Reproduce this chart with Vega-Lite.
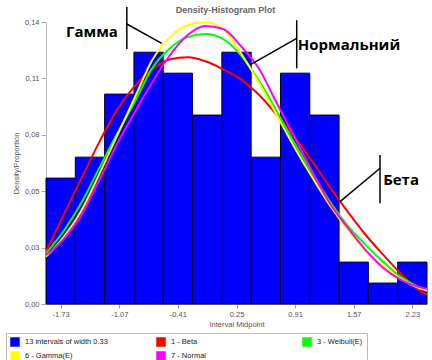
{
  "$schema": "https://vega.github.io/schema/vega-lite/v6.json",
  "width": 381,
  "height": 282,
  "autosize": {"type": "none"},
  "padding": {"left": 46, "top": 22, "right": 5, "bottom": 56},
  "background": "white",
  "title": {"text": "Density-Histogram Plot", "fontSize": 9, "font": "Liberation Sans", "fontWeight": "bold", "color": "#666666", "offset": -9, "dx": -11},
  "config": {"view": {"stroke": null}, "font": "Liberation Sans"},
  "datasets": {
    "bars": [
      {"series": "13 intervals of width 0.33", "mid": -1.73, "lo": -1.895, "hi": -1.565, "p": 0.0625},
      {"series": "13 intervals of width 0.33", "mid": -1.40, "lo": -1.565, "hi": -1.235, "p": 0.0729},
      {"series": "13 intervals of width 0.33", "mid": -1.07, "lo": -1.235, "hi": -0.905, "p": 0.1042},
      {"series": "13 intervals of width 0.33", "mid": -0.74, "lo": -0.905, "hi": -0.575, "p": 0.125},
      {"series": "13 intervals of width 0.33", "mid": -0.41, "lo": -0.575, "hi": -0.245, "p": 0.1146},
      {"series": "13 intervals of width 0.33", "mid": -0.08, "lo": -0.245, "hi": 0.085, "p": 0.0938},
      {"series": "13 intervals of width 0.33", "mid": 0.25, "lo": 0.085, "hi": 0.415, "p": 0.125},
      {"series": "13 intervals of width 0.33", "mid": 0.58, "lo": 0.415, "hi": 0.745, "p": 0.0729},
      {"series": "13 intervals of width 0.33", "mid": 0.91, "lo": 0.745, "hi": 1.075, "p": 0.1146},
      {"series": "13 intervals of width 0.33", "mid": 1.24, "lo": 1.075, "hi": 1.405, "p": 0.0938},
      {"series": "13 intervals of width 0.33", "mid": 1.57, "lo": 1.405, "hi": 1.735, "p": 0.0208},
      {"series": "13 intervals of width 0.33", "mid": 1.90, "lo": 1.735, "hi": 2.065, "p": 0.0104},
      {"series": "13 intervals of width 0.33", "mid": 2.23, "lo": 2.065, "hi": 2.395, "p": 0.0208}
    ],
    "curves": [
      {"series": "1 - Beta", "x": -1.895, "y": 0.026},
      {"series": "1 - Beta", "x": -1.7, "y": 0.044},
      {"series": "1 - Beta", "x": -1.5, "y": 0.062},
      {"series": "1 - Beta", "x": -1.3, "y": 0.080},
      {"series": "1 - Beta", "x": -1.1, "y": 0.096},
      {"series": "1 - Beta", "x": -0.9, "y": 0.108},
      {"series": "1 - Beta", "x": -0.7, "y": 0.1165},
      {"series": "1 - Beta", "x": -0.5, "y": 0.1215},
      {"series": "1 - Beta", "x": -0.3, "y": 0.1225},
      {"series": "1 - Beta", "x": -0.1, "y": 0.1205},
      {"series": "1 - Beta", "x": 0.1, "y": 0.1165},
      {"series": "1 - Beta", "x": 0.3, "y": 0.1115},
      {"series": "1 - Beta", "x": 0.5, "y": 0.104},
      {"series": "1 - Beta", "x": 0.7, "y": 0.094},
      {"series": "1 - Beta", "x": 0.9, "y": 0.083},
      {"series": "1 - Beta", "x": 1.1, "y": 0.071},
      {"series": "1 - Beta", "x": 1.3, "y": 0.058},
      {"series": "1 - Beta", "x": 1.5, "y": 0.046},
      {"series": "1 - Beta", "x": 1.7, "y": 0.0345},
      {"series": "1 - Beta", "x": 1.9, "y": 0.0245},
      {"series": "1 - Beta", "x": 2.1, "y": 0.015},
      {"series": "1 - Beta", "x": 2.3, "y": 0.007},
      {"series": "1 - Beta", "x": 2.395, "y": 0.0045},
      {"series": "3 - Weibull(E)", "x": -1.895, "y": 0.0252},
      {"series": "3 - Weibull(E)", "x": -1.7, "y": 0.036},
      {"series": "3 - Weibull(E)", "x": -1.5, "y": 0.050},
      {"series": "3 - Weibull(E)", "x": -1.3, "y": 0.067},
      {"series": "3 - Weibull(E)", "x": -1.1, "y": 0.084},
      {"series": "3 - Weibull(E)", "x": -0.9, "y": 0.100},
      {"series": "3 - Weibull(E)", "x": -0.7, "y": 0.117},
      {"series": "3 - Weibull(E)", "x": -0.5, "y": 0.127},
      {"series": "3 - Weibull(E)", "x": -0.3, "y": 0.1325},
      {"series": "3 - Weibull(E)", "x": -0.1, "y": 0.134},
      {"series": "3 - Weibull(E)", "x": 0.1, "y": 0.1315},
      {"series": "3 - Weibull(E)", "x": 0.3, "y": 0.1235},
      {"series": "3 - Weibull(E)", "x": 0.5, "y": 0.111},
      {"series": "3 - Weibull(E)", "x": 0.7, "y": 0.096},
      {"series": "3 - Weibull(E)", "x": 0.9, "y": 0.080},
      {"series": "3 - Weibull(E)", "x": 1.1, "y": 0.065},
      {"series": "3 - Weibull(E)", "x": 1.3, "y": 0.051},
      {"series": "3 - Weibull(E)", "x": 1.5, "y": 0.039},
      {"series": "3 - Weibull(E)", "x": 1.7, "y": 0.0295},
      {"series": "3 - Weibull(E)", "x": 1.9, "y": 0.021},
      {"series": "3 - Weibull(E)", "x": 2.1, "y": 0.0135},
      {"series": "3 - Weibull(E)", "x": 2.3, "y": 0.0085},
      {"series": "3 - Weibull(E)", "x": 2.395, "y": 0.007},
      {"series": "6 - Gamma(E)", "x": -1.895, "y": 0.0235},
      {"series": "6 - Gamma(E)", "x": -1.7, "y": 0.033},
      {"series": "6 - Gamma(E)", "x": -1.5, "y": 0.046},
      {"series": "6 - Gamma(E)", "x": -1.3, "y": 0.064},
      {"series": "6 - Gamma(E)", "x": -1.1, "y": 0.083},
      {"series": "6 - Gamma(E)", "x": -0.9, "y": 0.102},
      {"series": "6 - Gamma(E)", "x": -0.7, "y": 0.121},
      {"series": "6 - Gamma(E)", "x": -0.5, "y": 0.1325},
      {"series": "6 - Gamma(E)", "x": -0.3, "y": 0.1385},
      {"series": "6 - Gamma(E)", "x": -0.1, "y": 0.140},
      {"series": "6 - Gamma(E)", "x": 0.1, "y": 0.1365},
      {"series": "6 - Gamma(E)", "x": 0.3, "y": 0.1245},
      {"series": "6 - Gamma(E)", "x": 0.5, "y": 0.110},
      {"series": "6 - Gamma(E)", "x": 0.7, "y": 0.094},
      {"series": "6 - Gamma(E)", "x": 0.9, "y": 0.078},
      {"series": "6 - Gamma(E)", "x": 1.1, "y": 0.063},
      {"series": "6 - Gamma(E)", "x": 1.3, "y": 0.049},
      {"series": "6 - Gamma(E)", "x": 1.5, "y": 0.037},
      {"series": "6 - Gamma(E)", "x": 1.7, "y": 0.0265},
      {"series": "6 - Gamma(E)", "x": 1.9, "y": 0.019},
      {"series": "6 - Gamma(E)", "x": 2.1, "y": 0.0125},
      {"series": "6 - Gamma(E)", "x": 2.3, "y": 0.008},
      {"series": "6 - Gamma(E)", "x": 2.395, "y": 0.0065},
      {"series": "7 - Normal", "x": -1.895, "y": 0.0243},
      {"series": "7 - Normal", "x": -1.7, "y": 0.032},
      {"series": "7 - Normal", "x": -1.5, "y": 0.044},
      {"series": "7 - Normal", "x": -1.3, "y": 0.061},
      {"series": "7 - Normal", "x": -1.1, "y": 0.079},
      {"series": "7 - Normal", "x": -0.9, "y": 0.095},
      {"series": "7 - Normal", "x": -0.7, "y": 0.110},
      {"series": "7 - Normal", "x": -0.5, "y": 0.1235},
      {"series": "7 - Normal", "x": -0.3, "y": 0.1335},
      {"series": "7 - Normal", "x": -0.1, "y": 0.138},
      {"series": "7 - Normal", "x": 0.1, "y": 0.1365},
      {"series": "7 - Normal", "x": 0.3, "y": 0.128},
      {"series": "7 - Normal", "x": 0.5, "y": 0.117},
      {"series": "7 - Normal", "x": 0.7, "y": 0.100},
      {"series": "7 - Normal", "x": 0.9, "y": 0.083},
      {"series": "7 - Normal", "x": 1.1, "y": 0.066},
      {"series": "7 - Normal", "x": 1.3, "y": 0.050},
      {"series": "7 - Normal", "x": 1.5, "y": 0.038},
      {"series": "7 - Normal", "x": 1.7, "y": 0.027},
      {"series": "7 - Normal", "x": 1.9, "y": 0.018},
      {"series": "7 - Normal", "x": 2.1, "y": 0.012},
      {"series": "7 - Normal", "x": 2.3, "y": 0.0085},
      {"series": "7 - Normal", "x": 2.395, "y": 0.0075}
    ],
    "annLines": [
      {"x1": -0.985, "y1": 0.1474, "x2": -0.985, "y2": 0.1266},
      {"x1": -0.985, "y1": 0.1390, "x2": -0.592, "y2": 0.1294},
      {"x1": 0.928, "y1": 0.1409, "x2": 0.928, "y2": 0.1170},
      {"x1": 0.928, "y1": 0.1319, "x2": 0.402, "y2": 0.1187},
      {"x1": 1.866, "y1": 0.0740, "x2": 1.866, "y2": 0.0500},
      {"x1": 1.866, "y1": 0.0674, "x2": 1.416, "y2": 0.0508}
    ],
    "annText": [
      {"label": "Гамма", "x": -1.377, "y": 0.135},
      {"label": "Нормальний", "x": 1.517, "y": 0.1286},
      {"label": "Бета", "x": 2.103, "y": 0.0616}
    ]
  },
  "layer": [
    {
      "data": {"name": "bars"},
      "mark": {"type": "rect", "stroke": "#000022", "strokeWidth": 1},
      "encoding": {
        "x": {
          "field": "lo", "type": "quantitative",
          "scale": {"domain": [-1.895, 2.395], "nice": false, "zero": false},
          "axis": {
            "values": [-1.73, -1.07, -0.41, 0.25, 0.91, 1.57, 2.23],
            "labelExpr": "(datum.value < 0 ? '-' : '') + format(abs(datum.value), '.2f')",
            "title": "Interval Midpoint", "grid": false,
            "labelFontSize": 7.5, "labelColor": "#555555",
            "titleFontSize": 7.5, "titleFontWeight": "normal", "titleColor": "#555555",
            "tickColor": "#999999", "domainColor": "#999999", "tickSize": 4,
            "labelPadding": 2, "titlePadding": 3, "labelFlush": false
          }
        },
        "x2": {"field": "hi"},
        "y": {
          "field": "p", "type": "quantitative",
          "scale": {"domain": [0, 0.14], "nice": false},
          "axis": {
            "values": [0, 0.028, 0.056, 0.084, 0.112, 0.14],
            "labelExpr": "datum.value < 0.01 ? '0,00' : datum.value < 0.04 ? '0,03' : datum.value < 0.07 ? '0,05' : datum.value < 0.1 ? '0,08' : datum.value < 0.13 ? '0,11' : '0,14'",
            "title": "Density/Proportion", "grid": false,
            "labelFontSize": 7.5, "labelColor": "#555555",
            "titleFontSize": 7.5, "titleFontWeight": "normal", "titleColor": "#555555",
            "tickColor": "#aaaaaa", "domainColor": "#bbbbbb", "tickSize": 5,
            "labelPadding": 2, "titlePadding": 4
          }
        },
        "y2": {"datum": 0},
        "color": {
          "field": "series", "type": "nominal",
          "scale": {
            "domain": ["13 intervals of width 0.33", "1 - Beta", "3 - Weibull(E)", "6 - Gamma(E)", "7 - Normal"],
            "range": ["#0000FF", "#FF0000", "#00FF00", "#FFFF00", "#FF00FF"]
          },
          "legend": {
            "orient": "none", "legendX": -40, "legendY": 311,
            "direction": "horizontal",
            "columns": 3, "columnPadding": 46, "gridAlign": "all",
            "title": null, "labelFontSize": 7.5, "labelColor": "#222222",
            "symbolSize": 64, "symbolType": "square", "rowPadding": 0,
            "padding": 4, "strokeColor": "#bbbbbb", "labelOffset": 5,
            "encode": {
              "symbols": {
                "update": {
                  "fill": {"scale": "color", "field": "value"},
                  "stroke": {"value": "black"},
                  "strokeWidth": {"value": 1},
                  "shape": {"value": "square"},
                  "opacity": {"value": 1}
                }
              }
            }
          }
        }
      }
    },
    {
      "data": {"name": "curves"},
      "mark": {"type": "line", "strokeWidth": 2, "interpolate": "monotone", "clip": true},
      "encoding": {
        "x": {"field": "x", "type": "quantitative"},
        "y": {"field": "y", "type": "quantitative"},
        "color": {"field": "series", "type": "nominal"}
      }
    },
    {
      "data": {"name": "annLines"},
      "mark": {"type": "rule", "color": "black", "strokeWidth": 1.5, "clip": false},
      "encoding": {
        "x": {"field": "x1", "type": "quantitative"},
        "y": {"field": "y1", "type": "quantitative"},
        "x2": {"field": "x2"},
        "y2": {"field": "y2"}
      }
    },
    {
      "data": {"name": "annText"},
      "mark": {"type": "text", "font": "Open Sans", "fontWeight": "bold", "fontSize": 15, "color": "black", "align": "center", "baseline": "middle"},
      "encoding": {
        "x": {"field": "x", "type": "quantitative"},
        "y": {"field": "y", "type": "quantitative"},
        "text": {"field": "label"}
      }
    }
  ]
}
